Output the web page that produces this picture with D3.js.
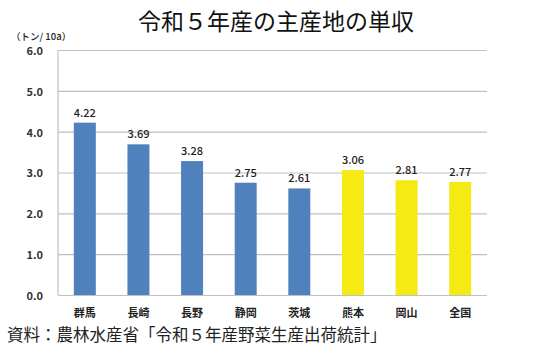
<!DOCTYPE html>
<html><head><meta charset="utf-8">
<script src="https://cdn.jsdelivr.net/npm/d3@7"></script>
<style>body{margin:0;background:#fff}svg{display:block}</style>
</head><body>
<svg id="c" width="550" height="351"></svg>
<script>
const categories = ["群馬","長崎","長野","静岡","茨城","熊本","岡山","全国"];
const values = [4.22,3.69,3.28,2.75,2.61,3.06,2.81,2.77];
const barColors = ["#4f81bd","#4f81bd","#4f81bd","#4f81bd","#4f81bd","#f5ea14","#f5ea14","#f5ea14"];
const yTicks = [0,1,2,3,4,5,6];
const title = "令和５年産の主産地の単収";
const unitLabel = "（トン/ 10a）";
const source = "資料：農林水産省「令和５年産野菜生産出荷統計」";

const font = "'Noto Sans CJK JP','Noto Sans',sans-serif";
const svg = d3.select("#c");
const m = {l:58, r:487, t:50, b:295};
const x = d3.scaleBand().domain(categories).range([m.l, m.r]).paddingInner(0.59).paddingOuter(0.295);
const y = d3.scaleLinear().domain([0,6]).range([m.b, m.t]);

svg.append("text").attr("x",276).attr("y",30).attr("text-anchor","middle")
  .attr("font-family",font).attr("font-size",23).attr("font-weight",400).attr("fill","#111").text(title);
svg.append("text").attr("x",11).attr("y",40).attr("font-family",font).attr("font-size",9.5)
  .attr("font-weight",500).attr("fill","#222").text(unitLabel);

// grid
const yAxis = d3.axisLeft(y).tickValues(yTicks).tickSize(-(m.r-m.l)).tickFormat(d3.format(".1f"));
const ga = svg.append("g").attr("transform",`translate(${m.l},0)`).call(yAxis);
ga.select(".domain").remove();
ga.selectAll(".tick line").attr("stroke","#c0c0c0").attr("stroke-width",1.2);
ga.selectAll(".tick text").attr("x",-15).attr("dy","0.4em").attr("font-family",font).attr("font-size",11)
  .attr("font-weight",700).attr("fill","#333");
svg.append("line").attr("x1",m.l).attr("x2",m.l).attr("y1",m.t).attr("y2",m.b)
  .attr("stroke","#c0c0c0").attr("stroke-width",1.2);

svg.selectAll("rect.bar").data(values).join("rect").attr("class","bar")
  .attr("x",(d,i)=>x(categories[i])).attr("width",x.bandwidth())
  .attr("y",d=>y(d)).attr("height",d=>y(0)-y(d)).attr("fill",(d,i)=>barColors[i]);

svg.selectAll("text.val").data(values).join("text").attr("class","val")
  .attr("x",(d,i)=>x(categories[i])+x.bandwidth()/2).attr("y",d=>y(d)-6)
  .attr("text-anchor","middle").attr("font-family",font).attr("font-size",11)
  .attr("font-weight",500).attr("fill","#222").text(d=>d.toFixed(2));

const xAxis = d3.axisBottom(x).tickSize(0);
const gx = svg.append("g").attr("transform",`translate(0,${m.b})`).call(xAxis);
gx.select(".domain").remove();
gx.selectAll(".tick text").attr("dy",0).attr("y",22).attr("font-family",font).attr("font-size",11)
  .attr("font-weight",700).attr("fill","#222");

svg.append("text").attr("x",7).attr("y",341).attr("font-family",font).attr("font-size",16.5)
  .attr("fill","#222").text(source);
</script>
</body></html>
